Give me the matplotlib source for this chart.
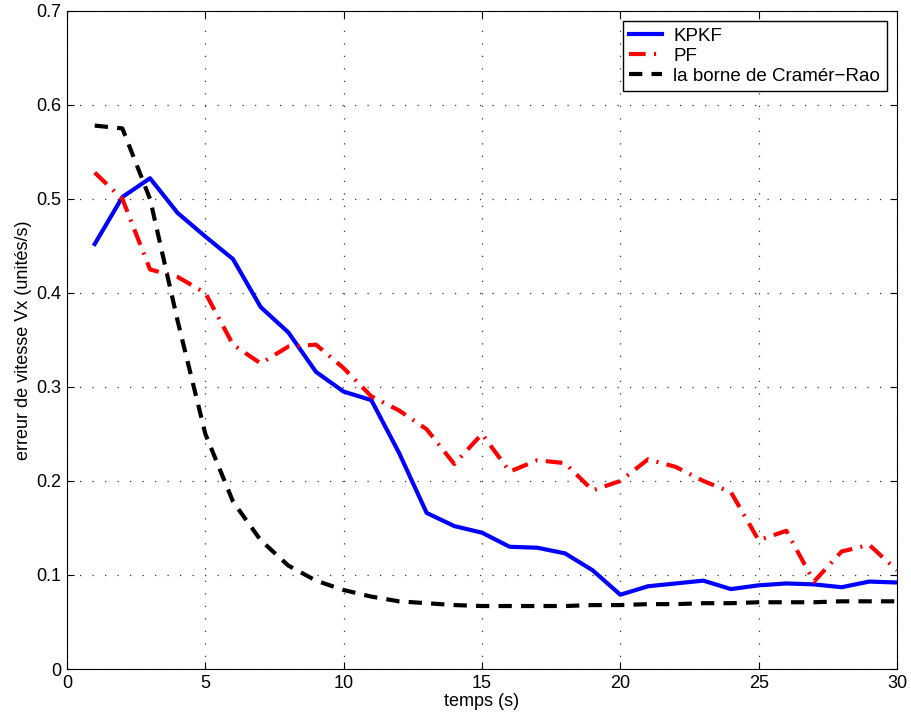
import matplotlib
matplotlib.use('Agg')
import matplotlib.pyplot as plt

plt.rcParams['font.family'] = ['Liberation Sans', 'DejaVu Sans']

# données
t = list(range(1, 31))
kpkf = [0.452, 0.502, 0.522, 0.485, 0.460, 0.436, 0.385, 0.358, 0.316, 0.295,
        0.286, 0.230, 0.166, 0.152, 0.145, 0.130, 0.129, 0.123, 0.105, 0.079,
        0.088, 0.091, 0.094, 0.085, 0.089, 0.091, 0.090, 0.087, 0.093, 0.092]
pf = [0.528, 0.500, 0.425, 0.417, 0.400, 0.345, 0.325, 0.343, 0.345, 0.320,
      0.290, 0.275, 0.255, 0.218, 0.250, 0.210, 0.222, 0.219, 0.190, 0.200,
      0.223, 0.215, 0.200, 0.188, 0.137, 0.147, 0.093, 0.125, 0.132, 0.105]
crb = [0.578, 0.575, 0.500, 0.370, 0.250, 0.178, 0.137, 0.110, 0.094, 0.084,
       0.077, 0.072, 0.070, 0.068, 0.067, 0.067, 0.067, 0.067, 0.068, 0.068,
       0.069, 0.069, 0.070, 0.070, 0.071, 0.071, 0.071, 0.072, 0.072, 0.072]

fig = plt.figure(figsize=(9.12, 7.26), dpi=100)
ax = fig.add_axes([0.0735, 0.0785, 0.91, 0.9065])

ax.plot(t, kpkf, color='blue', lw=3, label='KPKF')
ax.plot(t, pf, color='red', lw=3, linestyle=(0, (4, 2, 0.5, 2)), label='PF')
ax.plot(t, crb, color='black', lw=3, linestyle=(0, (3.2, 2.2)), label='la borne de Cramér\u2212Rao')

ax.set_xlim(0, 30)
ax.set_ylim(0, 0.7)
ax.set_xticks(range(0, 31, 5))
ax.set_yticks([0, 0.1, 0.2, 0.3, 0.4, 0.5, 0.6, 0.7])
ax.set_yticklabels(['0', '0.1', '0.2', '0.3', '0.4', '0.5', '0.6', '0.7'])
ax.tick_params(direction='in', labelsize=13, top=True, right=True, length=5, pad=4)
ax.grid(True, color='#333333', linestyle=(0, (1, 9)), lw=0.9)

ax.set_xlabel('temps (s)', fontsize=13, labelpad=1)
ax.set_ylabel('erreur de vitesse Vx (unités/s)', fontsize=13, labelpad=3)

leg = ax.legend(loc='upper right', fontsize=13.5, fancybox=False, framealpha=1,
                edgecolor='black', handlelength=1.75, handletextpad=0.6,
                labelspacing=0.15, borderpad=0.35, borderaxespad=0.55)
leg.get_frame().set_linewidth(1)

plt.savefig('out.png', dpi=100)
